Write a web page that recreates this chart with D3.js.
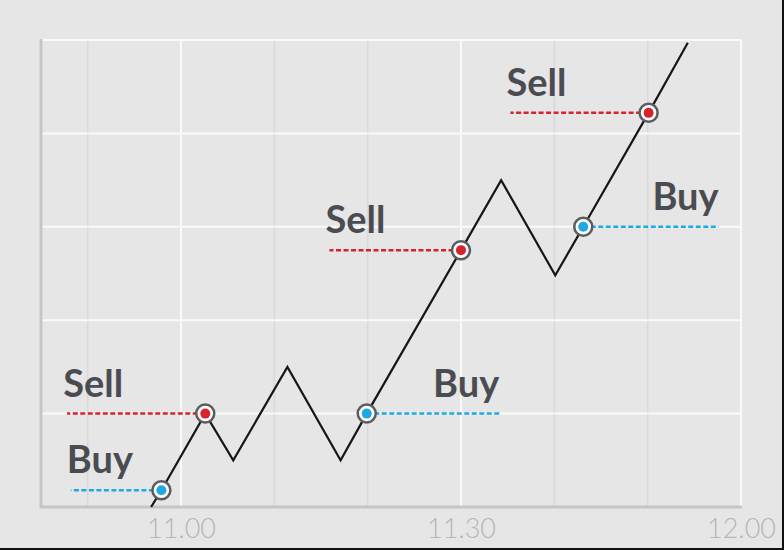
<!DOCTYPE html>
<html>
<head>
<meta charset="utf-8">
<script src="https://cdn.jsdelivr.net/npm/d3@7"></script>
<style>
  body { margin: 0; background: #e6e6e6; }
  svg { display: block; }
</style>
</head>
<body>
<div class="chart"></div>
<script>
var svgWidth = 784;
var svgHeight = 550;

// price path: minutes after 11:00 and price level
var times = [-3.2, -2.1, 2.6, 5.6, 11.4, 17.1, 19.9, 30, 34.3, 40.1, 43.1, 50.1, 54.3];
var prices = [0, 0.18, 1, 0.5, 1.5, 0.5, 1, 2.75, 3.5, 2.48, 3, 4.22, 4.97];

// trade signals: which point, and where (minutes) the dashed level line ends
var signalTypes = ["Buy", "Sell", "Buy", "Sell", "Buy", "Sell"];
var signalPoints = [1, 2, 6, 7, 10, 11];
var signalEnds = [-11.8, -12.2, 34.1, 15.9, 57.6, 35.3];

var tickValues = [0, 30, 60];
var tickLabels = ["11.00", "11.30", "12.00"];
var minorTicks = [-10, 10, 20, 40, 50];
var priceGrid = [1, 2, 3, 4, 5];

var colors = { Buy: "#1ea9e1", Sell: "#d7232d" };

var svg = d3.select(".chart")
  .append("svg")
  .attr("width", svgWidth)
  .attr("height", svgHeight);

svg.append("rect")
  .attr("width", svgWidth)
  .attr("height", svgHeight)
  .attr("fill", "#e6e6e6");

var x = d3.scaleLinear().domain([-15, 60]).range([41, 741]);
var y = d3.scaleLinear().domain([0, 5]).range([507, 40]);

// grid
svg.selectAll(".minor")
  .data(minorTicks)
  .enter().append("line")
    .attr("x1", d => x(d)).attr("x2", d => x(d))
    .attr("y1", y(5)).attr("y2", y(0))
    .attr("stroke", "#d9d9d9")
    .attr("stroke-width", 1.5);

svg.selectAll(".major")
  .data(tickValues)
  .enter().append("line")
    .attr("x1", d => x(d)).attr("x2", d => x(d))
    .attr("y1", y(5)).attr("y2", y(0))
    .attr("stroke", "#fafafa")
    .attr("stroke-width", 2);

svg.selectAll(".hgrid")
  .data(priceGrid)
  .enter().append("line")
    .attr("x1", x(-15)).attr("x2", x(60))
    .attr("y1", d => y(d)).attr("y2", d => y(d))
    .attr("stroke", "#fafafa")
    .attr("stroke-width", 2);

// axes lines
svg.append("line")
  .attr("x1", x(-15)).attr("x2", x(-15))
  .attr("y1", y(5) - 1).attr("y2", y(0) + 1)
  .attr("stroke", "#c6c6c6")
  .attr("stroke-width", 3);

svg.append("line")
  .attr("x1", x(-15) - 1).attr("x2", x(60) + 1)
  .attr("y1", y(0)).attr("y2", y(0))
  .attr("stroke", "#c6c6c6")
  .attr("stroke-width", 3);

var bottomAxis = d3.axisBottom(x)
  .tickValues(tickValues)
  .tickSize(0)
  .tickPadding(12)
  .tickFormat((d, i) => tickLabels[i]);

var ax = svg.append("g")
  .attr("transform", "translate(0," + y(0) + ")")
  .call(bottomAxis);
ax.select(".domain").remove();
ax.selectAll("text")
  .attr("fill", "#b6b6b6")
  .style("font-family", "Lato, 'Open Sans', sans-serif")
  .style("font-weight", 300)
  .style("font-size", "27px");

// dashed signal levels and labels
var signals = signalTypes.map(function(t, i) {
  return { type: t, t: times[signalPoints[i]], p: prices[signalPoints[i]], end: signalEnds[i] };
});

svg.selectAll(".level")
  .data(signals)
  .enter().append("line")
    .attr("x1", d => x(d.t)).attr("x2", d => x(d.end))
    .attr("y1", d => y(d.p)).attr("y2", d => y(d.p))
    .attr("stroke", d => colors[d.type])
    .attr("stroke-width", 2.5)
    .attr("stroke-dasharray", "5,2.5");

svg.selectAll(".label")
  .data(signals)
  .enter().append("text")
    .attr("x", d => d.end < d.t ? x(d.end) - 4 : x(d.end))
    .attr("y", d => y(d.p) - 17)
    .attr("text-anchor", d => d.end < d.t ? "start" : "end")
    .attr("fill", "#4b4b52")
    .style("font-family", "Lato, 'Open Sans', sans-serif")
    .style("font-weight", 700)
    .style("font-size", "38px")
    .text(d => d.type);

// price line
var line = d3.line()
  .x(d => x(d[0]))
  .y(d => y(d[1]));

svg.append("path")
  .datum(d3.zip(times, prices))
  .attr("d", line)
  .attr("fill", "none")
  .attr("stroke", "#161616")
  .attr("stroke-width", 2.2)
  .attr("stroke-linejoin", "miter");

// markers
var marks = svg.selectAll(".mark")
  .data(signals)
  .enter().append("g")
    .attr("transform", d => "translate(" + x(d.t) + "," + y(d.p) + ")");

marks.append("circle")
  .attr("r", 9)
  .attr("fill", "#ffffff")
  .attr("stroke", "#5b5b62")
  .attr("stroke-width", 2.5);

marks.append("circle")
  .attr("r", 5)
  .attr("fill", d => colors[d.type]);

// frame edges of the screenshot
svg.append("rect")
  .attr("x", 0).attr("y", svgHeight - 2)
  .attr("width", svgWidth).attr("height", 2)
  .attr("fill", "#111");
svg.append("rect")
  .attr("x", svgWidth - 2).attr("y", 0)
  .attr("width", 2).attr("height", svgHeight)
  .attr("fill", "#111");
</script>
</body>
</html>
